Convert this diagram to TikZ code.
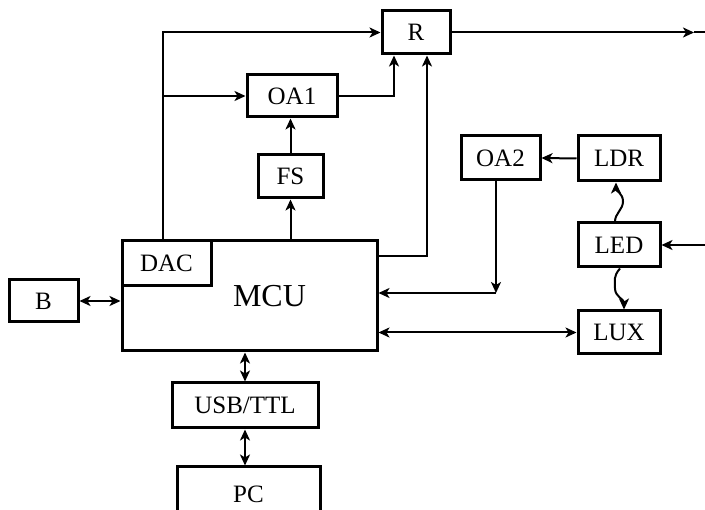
\documentclass[tikz,border=0pt]{standalone}
\usepackage{fontspec}
\setmainfont{Liberation Serif}
\usetikzlibrary{arrows.meta,calc}
\begin{document}
\begin{tikzpicture}[x=1pt,y=-1pt,
  blk/.style={draw,line width=3pt,inner sep=0pt,font=\fontsize{25}{25}\selectfont},
  conn/.style={line width=2pt},
  arr/.style={conn,-{Stealth[length=11pt,width=10pt,inset=3pt]}},
  darr/.style={conn,{Stealth[length=11pt,width=10pt,inset=3pt]}-{Stealth[length=11pt,width=10pt,inset=3pt]}}]
\clip (0,0) rectangle (705,510);
\fill[white] (0,0) rectangle (705,510);
% blocks
\node[blk,minimum width=68pt,minimum height=43pt] (R) at (416,32.5) {R};
\node[blk,minimum width=90pt,minimum height=42pt] (OA1) at (292,96) {OA1};
\node[blk,minimum width=65pt,minimum height=43pt] (FS) at (290.5,176.5) {FS};
\node[blk,minimum width=255pt,minimum height=110pt,font=\fontsize{32}{32}\selectfont] (MCU) at (249.5,296) {\hspace*{40pt}MCU};
\node[blk,minimum width=89pt,minimum height=45pt,anchor=north west] (DAC) at (MCU.north west) {DAC};
\node[blk,minimum width=69pt,minimum height=42pt] (B) at (43.5,301) {B};
\node[blk,minimum width=146pt,minimum height=45pt] (USB) at (245,405.5) {USB/TTL};
\node[blk,minimum width=143pt,minimum height=70pt,text depth=0pt] (PC) at (248.5,502) {\raisebox{16pt}{PC}};
\node[blk,minimum width=79pt,minimum height=44pt] (OA2) at (500.5,158) {OA2};
\node[blk,minimum width=82pt,minimum height=45pt] (LDR) at (619,158.5) {LDR};
\node[blk,minimum width=82pt,minimum height=44pt] (LED) at (619,245) {LED};
\node[blk,minimum width=82pt,minimum height=43pt] (LUX) at (619,332.5) {LUX};
% helper coordinates
\coordinate (c1) at (163,0);
\coordinate (c2) at (427,256);
\coordinate (c3) at (496,293);
\coordinate (tip) at (694,0);
\coordinate (edge) at (706,0);
\coordinate (oa1r) at (394,0);
% connectors
\draw[arr] (MCU.north -| c1) |- (R.west);
\draw[arr] (c1 |- OA1.west) -- (OA1.west);
\draw[arr] (OA1.east) -| (oa1r |- R.south);
\draw[arr] (MCU.east |- c2) -| (c2 |- R.south);
\draw[arr] (MCU.north -| FS.south) -- (FS.south);
\draw[arr] (FS.north) -- (FS.north |- OA1.south);
\draw[arr] (R.east) -- (R.east -| tip);
\draw[conn] (R.east -| tip) -- (R.east -| edge);
\draw[arr] (LDR.west) -- (OA2.east);
\draw[arr] (OA2.south -| c3) -- (c3);
\draw[arr] (c3) -- (MCU.east |- c3);
\draw[arr] (LED.east -| edge) -- (LED.east);
\draw[darr] (MCU.east |- LUX.west) -- (LUX.west);
\draw[darr] (B.east) -- (B.east -| MCU.west);
\draw[darr] (MCU.south -| USB.north) -- (USB.north);
\draw[darr] (USB.south) -- (USB.south |- PC.north);
% wavy optical links
\draw[arr] ([xshift=-4pt]LED.north) .. controls ++(0,-8) and ++(0,8) .. ++(8,-20) .. controls ++(0,-8) and ++(0,8) .. ([xshift=-3pt]LDR.south);
\draw[arr] ([xshift=1pt]LED.south) .. controls ++(-7,8) and ++(0,-8) .. ++(-5,20) .. controls ++(0,8) and ++(0,-10) .. ([xshift=5pt]LUX.north);
\end{tikzpicture}
\end{document}
